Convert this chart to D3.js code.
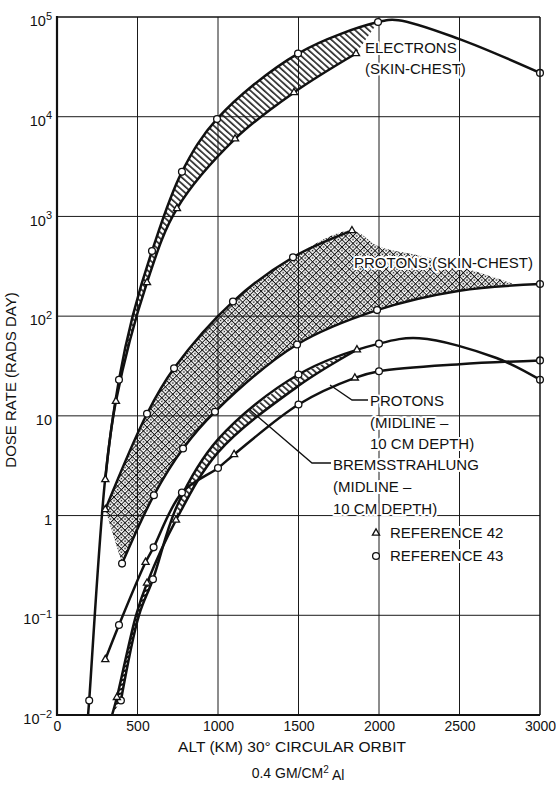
<!DOCTYPE html>
<html><head><meta charset="utf-8">
<script src="https://cdn.jsdelivr.net/npm/d3@7"></script>
<style>
body{margin:0;background:#fff;}
svg{display:block;}
text{font-family:"Liberation Sans",Arial,sans-serif;fill:#111;}
</style></head><body>
<svg id="c" width="556" height="785"></svg>
<script>
// ---------- data (altitude km, dose rate rads/day, marker) ----------
const xTicks=[0,500,1000,1500,2000,2500,3000];
const yTicks=[1e-2,1e-1,1,10,1e2,1e3,1e4,1e5];
const yTickBase=["10","10","1","10","10","10","10","10"];
const yTickExp=["\u22122","\u22121","","","2","3","4","5"];

const electronsUpper=[[193,0.01,""],[200,0.014,"c"],[300,2.4,""],[385,23,"c"],[470,100,""],[590,450,"c"],[776,2800,"c"],[994,9500,"c"],[1497,43000,"c"],[1994,89000,"c"],[2120,93000,""],[2500,60000,""],[3000,27500,"c"]];
const electronsLower=[[300,2.3,"t"],[366,14,"t"],[559,217,"t"],[745,1200,"t"],[1106,6000,"t"],[1472,17500,"t"],[1857,43000,"t"]];

const protonsSkinUpper=[[300,1.15,"t"],[559,10.5,"c"],[727,30,"c"],[1093,140,"c"],[1466,390,"c"],[1832,720,"t"]];
const protonsSkinEdge=[[2000,500,""],[2300,390,""],[2600,280,""],[2830,212,""]];
const protonsSkinLower=[[404,0.33,"c"],[602,1.6,"c"],[783,4.7,"c"],[981,11,"c"],[1491,52,"c"],[1988,115,"c"],[2500,180,""],[3000,210,"c"]];

const protonsMid=[[300,0.036,"t"],[385,0.08,"c"],[550,0.34,"t"],[600,0.48,"c"],[776,1.7,"c"],[1000,3.0,"c"],[1100,4.1,"t"],[1500,13,"c"],[1850,24,"t"],[2000,28,"c"],[2500,33,""],[3000,36,"c"]];

const bremsUpper=[[397,0.014,"c"],[509,0.1,""],[596,0.23,"c"],[750,1.3,""],[1000,5.8,""],[1500,26,"c"],[2000,53,"c"],[2250,60,""],[2730,38,""],[3000,23,"c"]];
const bremsLower=[[342,0.01,""],[372,0.015,"t"],[491,0.1,""],[559,0.21,"t"],[739,0.9,"t"],[1000,4.3,""],[1500,20,""],[1863,46,"t"]];

// ---------- setup ----------
const svg=d3.select("#c");
const x=d3.scaleLinear().domain([0,3000]).range([57,540]);
const y=d3.scaleLog().domain([0.01,1e5]).range([715,17]);
const line=d3.line().x(d=>x(d[0])).y(d=>y(d[1])).curve(d3.curveCatmullRom.alpha(0.5));

const defs=svg.append("defs");
defs.append("clipPath").attr("id","plot").append("rect")
  .attr("x",x(0)).attr("y",y(1e5)).attr("width",x(3000)-x(0)).attr("height",y(0.01)-y(1e5));
const ph=defs.append("pattern").attr("id","hatch").attr("patternUnits","userSpaceOnUse")
  .attr("width",4.6).attr("height",4.6).attr("patternTransform","rotate(42)");
ph.append("line").attr("x1",0).attr("x2",4.6).attr("y1",1).attr("y2",1).attr("stroke","#111").attr("stroke-width",1.5);
const ph2=defs.append("pattern").attr("id","ladder").attr("patternUnits","userSpaceOnUse")
  .attr("width",4).attr("height",4).attr("patternTransform","rotate(-20)");
ph2.append("line").attr("x1",0).attr("x2",4).attr("y1",1).attr("y2",1).attr("stroke","#111").attr("stroke-width",2);
const px=defs.append("pattern").attr("id","cross").attr("patternUnits","userSpaceOnUse")
  .attr("width",5.2).attr("height",5.2).attr("patternTransform","rotate(45)");
px.append("line").attr("x1",0).attr("x2",5.2).attr("y1",0.5).attr("y2",0.5).attr("stroke","#111").attr("stroke-width",1);
px.append("line").attr("y1",0).attr("y2",5.2).attr("x1",0.5).attr("x2",0.5).attr("stroke","#111").attr("stroke-width",1);
px.append("circle").attr("cx",3.1).attr("cy",3.1).attr("r",0.85).attr("fill","#111");

// ---------- grid ----------
const grid=svg.append("g").attr("stroke","#1a1a1a").attr("stroke-width",1);
grid.selectAll(".gv").data(xTicks.slice(1,-1)).join("line")
  .attr("x1",d=>x(d)).attr("x2",d=>x(d)).attr("y1",y(1e5)).attr("y2",y(0.01));
grid.selectAll(".gh").data(yTicks.slice(1,-1)).join("line")
  .attr("x1",x(0)).attr("x2",x(3000)).attr("y1",d=>y(d)).attr("y2",d=>y(d));

// ---------- bands ----------
function bandPath(up,low){
  const a=line(up), b=line(low.slice().reverse());
  return a+"L"+b.slice(1)+"Z";
}
const plot=svg.append("g").attr("clip-path","url(#plot)");
plot.append("path").attr("fill","url(#hatch)")
  .attr("d",bandPath(electronsUpper.filter(d=>d[0]>=300&&d[0]<=1994),electronsLower));
const pEnd=protonsSkinEdge[protonsSkinEdge.length-1][0];
plot.append("path").attr("fill","url(#cross)")
  .attr("d",bandPath(protonsSkinUpper.concat(protonsSkinEdge),protonsSkinLower.filter(d=>d[0]<pEnd)));
plot.append("path").attr("fill","url(#hatch)")
  .attr("d",bandPath(bremsUpper.filter(d=>d[0]>=740&&d[0]<=1500),bremsLower.filter(d=>d[0]>=730)));
plot.append("path").attr("fill","url(#ladder)")
  .attr("d",bandPath(bremsLower.filter(d=>d[0]<=560),bremsUpper.filter(d=>d[0]<=600)));

// ---------- labels (with white halo that breaks grid / hatch) ----------
const lab=svg.append("g").attr("font-size",15)
  .attr("stroke","#fff").attr("stroke-width",4).attr("paint-order","stroke").attr("stroke-linejoin","round");
function label(tx,ty,lines,dy){
  lines.forEach((s,i)=>lab.append("text").attr("x",tx).attr("y",ty+i*dy).text(s));
}
label(365,53,["ELECTRONS","(SKIN-CHEST)"],21);
label(354,268,["PROTONS (SKIN-CHEST)"],0);
label(370,406,["PROTONS","(MIDLINE \u2013","10 CM DEPTH)"],21.5);
label(333,470,["BREMSSTRAHLUNG","(MIDLINE \u2013","10 CM DEPTH)"],22);
label(390,538,["REFERENCE 42","REFERENCE 43"],23);

// ---------- curves ----------
const curves=[electronsUpper,electronsLower,protonsSkinUpper,protonsSkinLower,protonsMid,bremsUpper,bremsLower];
plot.selectAll(".crv").data(curves).join("path")
  .attr("fill","none").attr("stroke","#111").attr("stroke-width",2.5).attr("stroke-linejoin","round")
  .attr("d",d=>line(d));

// leader lines
const leaders=svg.append("g").attr("fill","none").attr("stroke","#111").attr("stroke-width",1.3);
leaders.append("polyline").attr("points","368,400 352,400 330,385");
leaders.append("polyline").attr("points","331,463 312,463 250,410");

// ---------- markers ----------
const pts=curves.flat().filter(d=>d[2]);
const mk=svg.append("g").attr("fill","#fff").attr("stroke","#111").attr("stroke-width",1.3);
mk.selectAll("circle").data(pts.filter(d=>d[2]==="c")).join("circle")
  .attr("cx",d=>x(d[0])).attr("cy",d=>y(d[1])).attr("r",3.4);
const tri=d3.symbol().type(d3.symbolTriangle).size(22);
mk.selectAll(".tr").data(pts.filter(d=>d[2]==="t")).join("path")
  .attr("transform",d=>`translate(${x(d[0])},${y(d[1])})`).attr("d",tri);
// legend symbols
mk.append("path").attr("transform","translate(376,533)").attr("d",tri);
mk.append("circle").attr("cx",376).attr("cy",556).attr("r",3.4);

// ---------- frame ----------
const fr=svg.append("g").attr("stroke","#111").attr("fill","none");
fr.append("line").attr("x1",x(0)).attr("x2",x(0)).attr("y1",y(1e5)-1).attr("y2",y(0.01)+1).attr("stroke-width",2.2);
fr.append("line").attr("x1",x(0)).attr("x2",x(3000)).attr("y1",y(0.01)).attr("y2",y(0.01)).attr("stroke-width",2.2);
fr.append("line").attr("x1",x(0)).attr("x2",x(3000)).attr("y1",y(1e5)).attr("y2",y(1e5)).attr("stroke-width",1.5);
fr.append("line").attr("x1",x(3000)).attr("x2",x(3000)).attr("y1",y(1e5)).attr("y2",y(0.01)).attr("stroke-width",1.5);

// ---------- axes ----------
const gx=svg.append("g").attr("transform",`translate(0,${y(0.01)})`)
  .call(d3.axisBottom(x).tickValues(xTicks).tickSize(0).tickPadding(6).tickFormat(d=>String(d)));
gx.select(".domain").remove();
gx.selectAll("text").attr("font-size",14).attr("fill","#111");

const gy=svg.append("g").attr("transform",`translate(${x(0)},0)`)
  .call(d3.axisLeft(y).tickValues(yTicks).tickSize(0).tickPadding(5).tickFormat(()=>""));
gy.select(".domain").remove();
gy.selectAll(".tick text").each(function(d,i){
  const t=d3.select(this).attr("font-size",14.5).attr("fill","#111").attr("dy","0.6em");
  t.append("tspan").text(yTickBase[i]);
  if(yTickExp[i]) t.append("tspan").attr("dy","-0.6em").attr("font-size",11).text(yTickExp[i]);
});

svg.append("text").attr("x",292).attr("y",752).attr("text-anchor","middle").attr("font-size",15.5)
  .text("ALT (KM) 30\u00B0 CIRCULAR ORBIT");
const sub=svg.append("text").attr("x",298).attr("y",778).attr("text-anchor","middle").attr("font-size",14);
sub.append("tspan").text("0.4 GM/CM");
sub.append("tspan").attr("dy","-0.5em").attr("font-size",10).text("2");
sub.append("tspan").attr("dy","0.5em").text(" Al");
svg.append("text").attr("transform","translate(16,380) rotate(-90)").attr("text-anchor","middle").attr("font-size",15)
  .text("DOSE RATE (RADS DAY)");
</script>
</body></html>
